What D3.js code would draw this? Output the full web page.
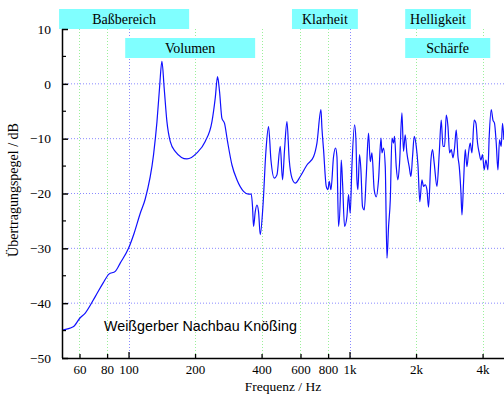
<!DOCTYPE html>
<html>
<head>
<meta charset="utf-8">
<script src="https://cdn.jsdelivr.net/npm/d3@7"></script>
<style>
  html, body { margin: 0; padding: 0; background: #fff; }
  svg { display: block; }
</style>
</head>
<body>
<svg id="chart" width="504" height="396"></svg>
<script>
// Frequency response: frequency in Hz and transfer level in dB
const freqHz = [
  50.1, 56.2, 60.3, 63.7, 70.7, 76.8, 81.5, 87.1, 91.7, 100,
  106.1, 113, 119, 129.8, 134.5, 138.1, 141.6, 145.0, 149.2, 154.4,
  162.6, 183.8, 203.9, 222.3, 238.5, 246.8, 252.8, 258.1, 264.6, 271.9,
  280.5, 293.8, 309.4, 331.4, 349.1, 359.1, 364.0, 367.9, 374.5, 381.1,
  387.5, 394.4, 405.6, 418.5, 430.0, 441.0, 456.4, 469.4, 485.8, 497.6,
  508.1, 521.0, 533.6, 549.0, 568.1, 598.5, 641.6, 687.3, 712.1, 742.4,
  750.2, 762.9, 784.6, 798.6, 809.4, 823.9, 846.5, 864.5, 877.1, 891.8,
  907.8, 917.3, 930.0, 949.6, 973.2, 989.7, 1007, 1025, 1054, 1069,
  1080, 1091, 1110, 1126, 1145, 1166, 1190, 1219, 1241, 1263,
  1293, 1321, 1353, 1388, 1402, 1425, 1451, 1477, 1502, 1529,
  1556, 1582, 1598, 1627, 1656, 1684, 1726, 1755, 1786, 1818,
  1862, 1896, 1928, 1963, 2004, 2040, 2080, 2126, 2162, 2200,
  2240, 2278, 2335, 2375, 2417, 2486, 2547, 2600, 2647, 2692,
  2740, 2789, 2836, 2887, 2938, 2987, 3040, 3095, 3137, 3193,
  3226, 3280, 3339, 3398, 3455, 3517, 3579, 3665, 3733, 3795,
  3862, 3931, 3997, 4068, 4141, 4228, 4286, 4377, 4456, 4530,
  4611, 4694, 4773, 4858, 4924, 4996
];
const levelDb = [
  -44.9, -44.3, -42.7, -41.8, -38.8, -36.3, -34.7, -34.2, -32.7, -30.0,
  -27.2, -23.6, -21.0, -12.9, -6.9, -0.8, 4.1, -0.8, -6.9, -10.5,
  -12.3, -13.7, -12.6, -10.5, -6.9, -2.6, 1.3, -1.4, -6.3, -7.2,
  -10.5, -14.8, -17.5, -19.6, -20.1, -20.1, -22.4, -26.0, -23.3, -22.1,
  -23.3, -27.5, -22.4, -12.3, -7.8, -13.9, -17.2, -16.6, -11.4, -17.5,
  -12.0, -6.9, -13.9, -17.2, -18.1, -16.9, -14.8, -13.3, -10.8, -4.7,
  -8.1, -12.0, -18.7, -19.3, -17.8, -19.3, -13.3, -11.7, -13.3, -26.0,
  -21.2, -13.9, -18.1, -26.0, -24.2, -20.2, -23.6, -15.1, -7.5, -10.2,
  -17.5, -19.3, -12.9, -15.7, -22.4, -23.0, -16.9, -9.0, -14.2, -12.6,
  -19.3, -20.6, -17.5, -9.9, -12.6, -11.7, -15.1, -31.8, -26.0, -21.2,
  -9.9, -10.8, -9.6, -15.1, -17.5, -14.5, -5.3, -12.3, -9.3, -12.6,
  -15.1, -16.9, -13.3, -9.6, -11.4, -14.8, -21.5, -17.5, -18.7, -18.4,
  -19.3, -22.5, -13.9, -12.0, -14.5, -18.7, -12.6, -6.6, -11.4, -11.4,
  -5.7, -7.8, -12.6, -12.0, -13.5, -11.7, -8.4, -13.3, -15.1, -19.9,
  -23.9, -18.1, -12.0, -15.1, -12.6, -10.8, -12.6, -6.6, -7.2, -10.8,
  -12.6, -13.9, -12.9, -15.7, -13.9, -15.7, -9.6, -4.7, -6.6, -7.2,
  -10.8, -15.7, -10.2, -11.4, -7.2, -10.2
];

// Axis ticks
const xTickValues = [60, 80, 100, 200, 400, 600, 800, 1000, 2000, 4000];
const xTickLabels = ["60", "80", "100", "200", "400", "600", "800", "1k", "2k", "4k"];
const xMajorTicks = [100, 1000];
const yTickValues = [-50, -40, -30, -20, -10, 0, 10];
const yMinorTicks = [-45, -35, -25, -15, -5, 5];
const yGridValues = [-40, -30, -20, -10, 0];

// Frequency bands shown as labelled bars above the plot
const bandLabels = ["Baßbereich", "Volumen", "Klarheit", "Helligkeit", "Schärfe"];
const bandLow = [48.5, 96.6, 549, 1786, 1786];
const bandHigh = [188, 374, 1091, 3540, 4333];
const bandRow = [0, 1, 0, 0, 1];

const titleX = "Frequenz / Hz";
const titleY = "Übertragungspegel / dB";
const noteText = "Weißgerber Nachbau Knößing";

const svg = d3.select("#chart");
const plot = { left: 62, right: 504, top: 29, bottom: 358 };

const x = d3.scaleLog().domain([50, 5000]).range([plot.left, plot.right]);
const y = d3.scaleLinear().domain([-50, 10]).range([plot.bottom, plot.top]);

const serif = "'Liberation Serif', 'Times New Roman', serif";
const sans = "'Liberation Sans', Arial, sans-serif";

// Grid
const grid = svg.append("g").attr("class", "grid");
grid.selectAll("line.h").data(yGridValues).join("line")
  .attr("x1", plot.left).attr("x2", plot.right)
  .attr("y1", d => y(d)).attr("y2", d => y(d))
  .attr("stroke", "#8a8aff").attr("stroke-width", 1)
  .attr("stroke-dasharray", "1,2");
grid.selectAll("line.v").data(xTickValues).join("line")
  .attr("x1", d => Math.round(x(d)) + 0.5).attr("x2", d => Math.round(x(d)) + 0.5)
  .attr("y1", plot.top).attr("y2", plot.bottom)
  .attr("stroke", d => xMajorTicks.includes(d) ? "#8a8aff" : "#9af09a")
  .attr("stroke-width", 1)
  .attr("stroke-dasharray", "1,2");

// Bands
const bandH = 20;
const bands = svg.append("g").attr("class", "bands");
bandLabels.forEach((label, i) => {
  const top = 9 + bandRow[i] * 29;
  bands.append("rect")
    .attr("x", x(bandLow[i])).attr("y", top)
    .attr("width", x(bandHigh[i]) - x(bandLow[i])).attr("height", bandH)
    .attr("fill", "#80ffff");
  bands.append("text")
    .attr("x", (x(bandLow[i]) + x(bandHigh[i])) / 2).attr("y", top + 15)
    .attr("text-anchor", "middle")
    .attr("font-family", serif).attr("font-size", 14)
    .attr("fill", "#000")
    .text(label);
});

// Response curve
svg.append("clipPath").attr("id", "plotClip")
  .append("rect").attr("x", plot.left).attr("y", plot.top)
  .attr("width", plot.right - plot.left).attr("height", plot.bottom - plot.top);

const points = freqHz.map((f, i) => [f, levelDb[i]]);
const line = d3.line()
  .x(d => x(d[0])).y(d => y(d[1]))
  .curve(d3.curveMonotoneX);
svg.append("path")
  .attr("clip-path", "url(#plotClip)")
  .attr("d", line(points))
  .attr("fill", "none")
  .attr("stroke", "#1010ff")
  .attr("stroke-width", 1.2)
  .attr("stroke-linejoin", "round");

// Axes
const yAxis = d3.axisLeft(y).tickValues(yTickValues).tickSize(-6).tickPadding(11)
  .tickFormat(d3.format("d"));
const gy = svg.append("g").attr("transform", `translate(${plot.left},0)`).call(yAxis);
gy.select(".domain").attr("stroke", "#000").attr("stroke-width", 1.5)
  .attr("d", `M0.5,${plot.top}V${plot.bottom}`);
gy.selectAll(".tick line").attr("stroke", "#000").attr("stroke-width", 1.5);
gy.selectAll(".tick text").attr("font-family", serif).attr("font-size", 13.5).attr("fill", "#000");
gy.selectAll("line.minor").data(yMinorTicks).join("line").attr("class", "minor")
  .attr("x1", 0).attr("x2", 4).attr("y1", d => y(d)).attr("y2", d => y(d))
  .attr("stroke", "#000").attr("stroke-width", 1.2);

const xAxis = d3.axisBottom(x).tickValues(xTickValues)
  .tickSize(0).tickPadding(7)
  .tickFormat((d, i) => xTickLabels[i]);
const gx = svg.append("g").attr("transform", `translate(0,${plot.bottom})`).call(xAxis);
gx.select(".domain").attr("stroke", "#000").attr("stroke-width", 1.5)
  .attr("d", `M${plot.left},0.5H${plot.right}`);
gx.selectAll(".tick text").attr("font-family", serif).attr("font-size", 13).attr("fill", "#000");
gx.selectAll(".tick").append("line")
  .attr("y1", 0).attr("y2", d => xMajorTicks.includes(d) ? -6 : -4)
  .attr("stroke", "#000").attr("stroke-width", 1.3);

// Titles
svg.append("text")
  .attr("x", 283).attr("y", 390.5)
  .attr("text-anchor", "middle")
  .attr("font-family", serif).attr("font-size", 13.5)
  .text(titleX);
svg.append("text")
  .attr("transform", "translate(18,190) rotate(-90)")
  .attr("text-anchor", "middle")
  .attr("font-family", serif).attr("font-size", 14)
  .text(titleY);

// Note inside the plot
svg.append("text")
  .attr("x", 104).attr("y", 331)
  .attr("font-family", sans).attr("font-size", 14.3)
  .attr("fill", "#000")
  .text(noteText);
</script>
</body>
</html>
